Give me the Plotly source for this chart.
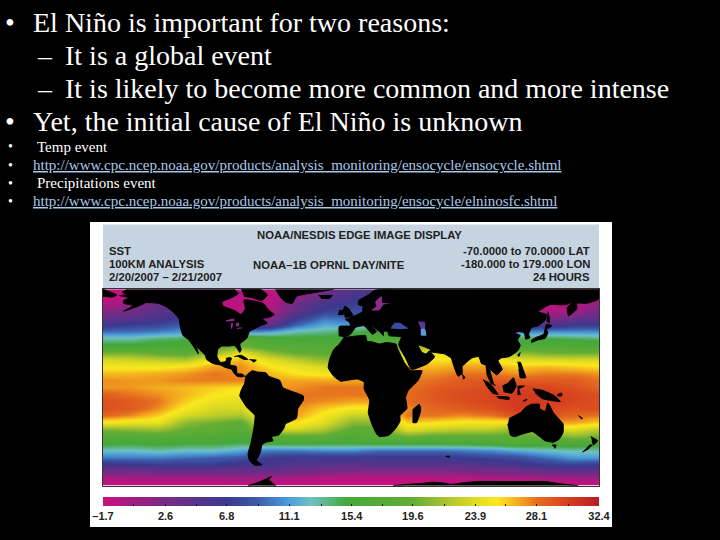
import plotly.graph_objects as go

# sea surface temperature, one row per latitude
lons = [-180, -160, -140, -120, -100, -80, -60, -40, -20, 0, 20, 40, 60, 80, 100, 120, 140, 160, 180]
lats = [70, 65, 60, 55, 50, 45, 40, 35, 30, 25, 20, 15, 10, 5, 0, -5, -10, -15, -20, -25, -30, -35, -40, -45, -50, -55, -60, -65, -70]
sst = [
    [-1.5, -1.5, -1, 0, 0, 0, -1, 0, 3, 5, 5, 5, 5, 5, 5, 3, -1, -1, -1],
    [-1.5, -1.2, 0, 0, 0, -1, -1, 1, 4, 6, 6, 6, 6, 6, 5, 3, -1, -1.5, -0.5],
    [-1, 1, 3.5, 4, -1, -1, -1, 3.5, 6, 7, 7, 7, 7, 6, 5, 2, -1, -1, 1.5],
    [1.5, 3, 4.5, 5, -1, -1, -0.5, 4, 7, 8, 8, 8, 8, 7, 5, 2, -0.5, 0, 3],
    [4, 4.5, 5.5, 7, 3, 1, 1, 6.5, 9.5, 9, 9, 9, 9, 8, 6, 3, 1.5, 3, 4.5],
    [6, 7, 7.5, 9, 6, 4, 4, 9, 11.5, 11, 13, 12, 10, 9, 8, 7, 5, 6.5, 6.5],
    [9.5, 9.5, 10, 11, 9, 10, 11, 13, 13.5, 14.5, 15.5, 14, 12, 11, 10, 10, 10.5, 10.5, 10.5],
    [13, 13, 14, 14.5, 18, 18, 16, 15.5, 15.5, 16, 16.5, 17, 16, 15, 14, 14.5, 15, 14.5, 14],
    [15.5, 15.5, 16, 16, 19, 19.5, 18, 17.5, 17.5, 17, 17, 20, 21, 23, 23, 17, 17, 16.5, 16.5],
    [20, 20, 19, 18.5, 21, 24, 21, 19.5, 19, 19, 19, 24.5, 24.5, 24.5, 24, 21, 20, 19.5, 20],
    [23.5, 23, 22.5, 22, 25, 26.5, 24, 22.5, 21, 21, 22, 24.5, 25.5, 25.5, 25.5, 24, 23.5, 23.5, 23.5],
    [25, 25, 25, 25.5, 27, 27.5, 25.5, 24.5, 23.5, 24, 25, 26.5, 26.5, 27, 27, 26, 26.5, 26, 25.5],
    [26.5, 26.5, 26.8, 27.3, 28, 27.5, 26.5, 25.5, 25, 25, 25, 27.3, 27.5, 28, 28, 27.3, 27.8, 27.8, 27.3],
    [27.5, 27.3, 27.3, 27.8, 27.8, 27.8, 27, 27, 27, 27, 27, 27.8, 28.2, 29, 29, 29, 29, 29, 28],
    [27.3, 27.3, 26.8, 26.5, 26, 25.5, 27, 27.5, 28, 28, 28, 28, 29, 29.2, 29.7, 30, 30, 29.5, 28.5],
    [28.8, 28, 27.5, 26.5, 25.5, 25, 27, 28, 28, 28, 28, 28.3, 29.2, 29.7, 30, 30.5, 30.5, 30, 29.5],
    [29.5, 29, 28, 26, 24.5, 24, 27, 28, 27.5, 27, 27, 28.3, 29, 29.5, 30, 30.5, 30.5, 30, 29.5],
    [29.5, 29, 27.5, 25, 23.5, 23.5, 27, 27.5, 26, 25, 25, 27.5, 28.5, 29, 29.5, 30.5, 30, 29.5, 29.5],
    [28.5, 27.5, 26, 23.5, 22.5, 22, 26, 27, 25, 23, 23, 28, 28, 27.5, 28, 29.5, 29.5, 28.5, 28],
    [25, 24.5, 24.5, 21, 20, 19, 26, 25.5, 24, 21, 21, 26, 25.5, 25, 25, 24.5, 27, 27, 26],
    [20.5, 21, 21.5, 19.5, 19, 18, 23, 23.5, 22, 19, 19, 24, 23, 22.5, 22.5, 21, 23.5, 24, 22.5],
    [17.5, 17.5, 18, 17.5, 17, 16, 19, 19, 19, 17, 18, 20, 19, 19, 19, 19, 19.5, 21, 20],
    [15.5, 15, 15.5, 15, 15, 14.5, 15, 15.5, 15, 15, 15.5, 15.5, 15.5, 15.5, 16, 17, 16, 16.5, 16],
    [12.5, 12.5, 13, 12.5, 12.5, 11.5, 10, 10, 10.5, 10.5, 9.5, 9.5, 9.5, 10, 10.5, 11.5, 12.5, 13, 13],
    [10, 10, 10, 9.5, 9, 8.5, 7, 6.5, 6.5, 6.5, 6.5, 6.5, 6.5, 7, 7.5, 8, 9.5, 11, 11],
    [6, 6.5, 7, 7, 7, 6, 6, 5.5, 5, 4.5, 5, 5, 5, 5, 5.5, 6, 7, 7.5, 7],
    [3.5, 3, 3.5, 3.5, 3.5, 3.5, 3.5, 3, 2.5, 2, 2, 2, 2, 2.5, 2.5, 3, 3.5, 4, 4],
    [-0.5, 0, 0, 0, 0, 0.5, 0, -0.5, -1, -1, -1, -1, -1, -1, -0.5, -0.5, 0, 0, 0.5],
    [-1.7, -1.7, -1.7, -1.7, -1.7, -1.7, -1.7, -1.7, -1.7, -1.7, -1.7, -1.7, -1.7, -1.7, -1.7, -1.7, -1.7, -1.7, -1.7],
]

sst_colors = [
    [0, "#c8107e"], [0.12, "#7b2a85"], [0.25, "#3b3a8f"], [0.31, "#3e5aa8"], [0.375, "#4a9fdc"],
    [0.42, "#72c0c4"], [0.49, "#45a83a"], [0.625, "#62ad35"], [0.686, "#a3c230"], [0.75, "#e0dc20"],
    [0.795, "#fbe81e"], [0.85, "#f0981e"], [0.875, "#e56e20"], [0.935, "#d6401e"], [1, "#b81c24"],
]
bar_vals = [-1.7, 0.4, 2.6, 4.7, 6.8, 9, 11.1, 13.3, 15.4, 17.5, 19.6, 21.8, 23.9, 26, 28.1, 30.3, 32.4]
bar_text = ["\u20131.7", "", "2.6", "", "6.8", "", "11.1", "", "15.4", "", "19.6", "", "23.9", "", "28.1", "", "32.4"]

# land outlines, (lon, lat)
north_america = [(-162, 70), (-166, 68), (-163, 66), (-168, 65.5), (-161, 64), (-165, 62), (-165, 60), (-158, 58.5),
                 (-165, 54.5), (-157, 57), (-152, 59), (-149, 60.5), (-140, 60), (-135, 58), (-130, 54.5), (-125, 49),
                 (-124, 43), (-122, 37), (-118, 34), (-115, 30), (-111, 24), (-112, 28), (-114, 31), (-110, 27),
                 (-106, 23), (-105, 20), (-100, 17), (-95, 16), (-92, 14.5), (-87, 13), (-85, 10), (-83, 8), (-80, 7.5),
                 (-77.5, 8), (-79, 9.5), (-83, 10), (-83.5, 15), (-88, 16), (-88, 18), (-87, 21), (-90.5, 21), (-91, 18.5),
                 (-95, 18), (-97.5, 22), (-97, 27), (-94, 29.5), (-89, 29.5), (-85, 30), (-83, 28), (-81, 25), (-80, 27),
                 (-81, 31), (-76, 35), (-74, 40), (-70, 42), (-66, 44), (-61, 46), (-65, 49), (-60, 50), (-56, 52), (-60, 55),
                 (-64, 60), (-70, 61.5), (-78, 62.5), (-77, 56), (-80, 52), (-85, 55), (-93, 58), (-94, 61), (-87, 64),
                 (-82, 67), (-85, 70)]
baffin = [(-80, 70), (-66, 70), (-61, 66), (-65, 62), (-72, 64), (-78, 65)]
greenland = [(-55, 70), (-52, 65), (-48, 61), (-43, 60), (-40, 65), (-25, 68), (-13, 70)]
south_america = [(-77, 8), (-72, 12), (-68, 11), (-62, 10.5), (-60, 8), (-52, 5), (-50, 0), (-44, -2.5), (-35, -6),
                 (-35, -9), (-39, -15), (-40, -22), (-48, -26), (-49, -29), (-53, -34), (-58, -35), (-57, -38), (-62, -39),
                 (-65, -41), (-66, -46), (-68, -50), (-69, -52), (-65, -55), (-70, -55.5), (-74, -52), (-75, -47), (-73, -40),
                 (-71, -30), (-70, -20), (-76, -14), (-81, -6), (-80, -2), (-78, 2)]
africa = [(-6, 35.5), (10, 37), (11, 33), (15, 32.5), (20, 31), (25, 32), (32, 31), (33, 28), (36, 22), (38, 18), (43, 12),
          (51, 12), (48, 5), (41, -2), (39, -7), (40, -15), (35, -20), (35, -24), (32, -29), (27, -34), (20, -35), (18, -33),
          (15, -27), (12, -18), (13, -9), (9, -1), (9, 4), (4, 6), (-4, 5), (-8, 4.5), (-13, 8), (-17, 14), (-16, 20),
          (-13, 27), (-10, 30)]
eurasia = [(-9, 36.5), (-9, 43.5), (-1, 44), (-1.5, 46.5), (-4.5, 48.5), (1, 50.5), (4, 52), (8, 54), (8, 57), (10, 57.5), (8, 58),
           (5, 59), (5, 62), (12, 66), (16, 69), (20, 70), (180, 70),
           (180, 65), (178, 62.5), (170, 60), (163, 60), (163, 56), (162, 55), (157, 51), (156, 57), (160, 61), (155, 59),
           (143, 59), (135, 54), (141, 52), (140, 48), (135, 44), (130, 42.5), (128, 38), (129, 35.5), (126, 34.5), (125, 39),
           (121, 40), (118, 39), (122, 37), (120, 34), (122, 30), (120, 26), (114, 22), (108, 21), (106, 19), (109, 13),
           (105, 9), (100, 13), (103, 2), (104, 1.5), (101, 3), (98, 9), (97, 16), (94, 17), (92, 22), (87, 21), (80, 15),
           (80, 10), (77, 8), (73, 18), (72, 21), (67, 24), (57, 25.5), (57, 27), (50, 30), (48, 30), (51, 25), (54, 24),
           (56, 26), (60, 22), (55, 17), (45, 13), (43, 13), (39, 21), (35, 28), (34, 31), (36, 36), (27, 37), (26, 40),
           (23, 40), (23, 37), (20, 40), (13, 45.5), (18, 40), (15, 38), (9, 44), (3, 43), (0, 39), (-2, 37), (-6, 36)]
chukotka = [(-180, 70), (-170, 66), (-173, 64.5), (-180, 65)]
britain = [(-5, 50), (1, 51), (-2, 56), (-5, 58), (-6, 55)]
ireland = [(-10, 52), (-6, 52), (-6, 55), (-9, 55)]
iceland = [(-24, 65.5), (-14, 65.5), (-16, 63.5), (-22, 63.5)]
madagascar = [(44, -16), (49, -12), (50, -16), (47, -25), (44, -25)]
japan = [(130, 32), (135, 34), (140, 35), (142, 39), (141, 41.5), (145, 44), (141, 45), (139, 38), (133, 35.5), (130, 33.5)]
sakhalin = [(142, 54), (143, 50), (143, 46), (141, 48)]
taiwan = [(120, 23), (122, 25), (121, 22)]
philippines = [(120, 18), (122, 18), (124, 13), (126, 7), (122, 7), (121, 13)]
borneo = [(109, 1), (113, 3), (117, 7), (119, 1), (116, -4), (110, -3)]
sumatra = [(95, 5.5), (100, 3), (106, -5), (102, -4), (97, 2)]
java = [(105, -6.5), (114, -7), (114, -8.5), (106, -7.5)]
sulawesi = [(120, 1), (125, 1), (121, -1), (122, -5), (120, -5)]
new_guinea = [(131, -1), (138, -2), (147, -6), (151, -10), (143, -9), (138, -8), (133, -4)]
new_britain = [(149, -5), (152, -4), (152, -6), (149, -6)]
timor = [(124, -9.5), (127, -8.5), (125, -10)]
australia = [(114, -22), (122, -18), (126, -14), (130, -12), (136, -12), (136, -15), (140, -17), (142, -11), (146, -18),
             (153, -26), (153, -32), (150, -37), (146, -39), (140, -38), (136, -35), (131, -31.5), (124, -33), (118, -35),
             (115, -34), (113, -26)]
tasmania = [(145, -41), (148, -41), (147, -43.5)]
nz_south = [(167, -46), (171, -44), (174, -41), (172, -41)]
nz_north = [(173, -35), (178, -38), (175, -41), (174, -38)]
sri_lanka = [(80, 9.5), (82, 7), (80.5, 6)]
cuba = [(-85, 22), (-80, 23), (-75, 20), (-78, 20), (-82, 22)]
hispaniola = [(-74, 20), (-69, 19.5), (-71, 18)]
caledonia = [(164, -20), (167, -22), (166, -22.5)]
kerguelen = [(68, -49), (71, -49), (70, -50)]
peninsula = [(-75, -70), (-66, -67), (-58, -63.5), (-60, -65.5), (-55, -70)]
antarctica = [(30, -70), (40, -69), (50, -68.5), (58, -67.5), (66, -68), (72, -69), (80, -68), (90, -67), (110, -67), (125, -67),
              (140, -67), (150, -68.5), (164, -70)]
land = [north_america, baffin, greenland, south_america, africa, eurasia, chukotka, britain, ireland, iceland, madagascar,
        japan, sakhalin, taiwan, philippines, borneo, sumatra, java, sulawesi, new_guinea, new_britain, timor, australia,
        tasmania, nz_south, nz_north, sri_lanka, cuba, hispaniola, caledonia, kerguelen, peninsula, antarctica]

# inland water that keeps its own colour
baltic = [(14, 55), (20, 55), (23, 59), (29, 60), (22, 60.5), (22, 65), (20, 64), (17, 61), (18, 58)]
black_sea = [(28, 42), (31, 46), (35, 46), (41, 42), (35, 41.5)]
caspian_n = [(48, 47), (53, 46.5), (53, 42), (50, 42)]
caspian_s = [(50, 42), (53, 42), (54, 37), (50, 37)]
lake_superior = [(-91, 48), (-85, 49), (-85, 47.5), (-91, 47)]
lake_michigan = [(-87.5, 46), (-86, 46), (-86.5, 42), (-87.5, 42)]
lake_huron = [(-84, 46), (-81.5, 46), (-82, 43.5), (-83.5, 43.5)]
lake_erie = [(-83, 42.5), (-79.5, 43), (-79.5, 42.3), (-83, 41.7)]
inland = [(baltic, "#8f2a8a"), (black_sea, "#3e4a9e"), (caspian_n, "#5a3a96"), (caspian_s, "#5b9ad8"), (lake_superior, "#8a2a90"),
          (lake_michigan, "#8a2a90"), (lake_huron, "#8a2a90"), (lake_erie, "#8a2a90")]

main_lines = [("\u2022", 3, 22), ("El Ni\u00f1o is important for two reasons:", 31, 22),
              ("\u2013", 35, 55), ("It is a global event", 63, 55),
              ("\u2013", 35, 89), ("It is likely to become more common and more intense", 63, 89),
              ("\u2022", 3, 122), ("Yet, the initial cause of El Ni\u00f1o is unknown", 31, 122)]
small_lines = [("Temp event", 35, 147, False),
               ("http://www.cpc.ncep.noaa.gov/products/analysis_monitoring/ensocycle/ensocycle.shtml", 31, 165, True),
               ("Precipitations event", 35, 183, False),
               ("http://www.cpc.ncep.noaa.gov/products/analysis_monitoring/ensocycle/elninosfc.shtml", 31, 201, True)]
map_labels = [("NOAA/NESDIS EDGE IMAGE DISPLAY", 359, 235, "center"), ("SST", 107, 251, "left"),
              ("100KM ANALYSIS", 107, 264, "left"), ("2/20/2007 \u2013 2/21/2007", 107, 277, "left"),
              ("NOAA\u20131B OPRNL DAY/NITE", 329, 265, "center"), ("-70.0000 to 70.0000 LAT", 592, 251, "right"),
              ("-180.000 to 179.000 LON", 592, 264, "right"), ("24 HOURS", 592, 277, "right")]

W, H = 720, 540


def px(x):
    return x / W


def py(y):
    return 1 - y / H


fig = go.Figure()
fig.add_trace(go.Heatmap(
    x=lons, y=lats, z=sst, zmin=-1.7, zmax=32.4, zsmooth="best", colorscale=sst_colors, hoverinfo="skip",
    colorbar=dict(orientation="h", x=px(351), xanchor="center", y=py(497), yanchor="top", lenmode="pixels", len=496,
                  thicknessmode="pixels", thickness=9, xpad=0, ypad=0, outlinewidth=0, tickmode="array",
                  tickvals=bar_vals, ticktext=bar_text, ticks="inside", ticklen=2, tickcolor="#111",
                  tickfont=dict(family="Liberation Sans", size=11, color="#222", weight="bold")),
))
for shape in land:
    fig.add_trace(go.Scatter(x=[p[0] for p in shape], y=[p[1] for p in shape], mode="lines", fill="toself",
                             fillcolor="black", line=dict(color="black", width=1, shape="spline", smoothing=0.4),
                             hoverinfo="skip", showlegend=False))
for shape, color in inland:
    fig.add_trace(go.Scatter(x=[p[0] for p in shape], y=[p[1] for p in shape], mode="lines", fill="toself",
                             fillcolor=color, line=dict(color=color, width=0, shape="spline", smoothing=0.4),
                             hoverinfo="skip", showlegend=False))

fig.add_shape(type="rect", xref="paper", yref="paper", x0=px(90), x1=px(612), y0=py(527), y1=py(222),
              fillcolor="white", line_width=0, layer="below")
fig.add_shape(type="rect", xref="paper", yref="paper", x0=px(103), x1=px(599), y0=py(289.5), y1=py(224.5),
              fillcolor="#c5d4e0", line_width=0, layer="below")

for text, x, y in main_lines:
    fig.add_annotation(text=text, x=px(x), y=py(y), xref="paper", yref="paper", xanchor="left", yanchor="middle",
                       showarrow=False, font=dict(family="Liberation Serif", size=28, color="white"))
for y in [147, 165, 183, 201]:
    fig.add_annotation(text="\u2022", x=px(6), y=py(y), xref="paper", yref="paper", xanchor="left", yanchor="middle",
                       showarrow=False, font=dict(family="Liberation Serif", size=14, color="white"))
for text, x, y, is_link in small_lines:
    label = "<u>" + text + "</u>" if is_link else text
    fig.add_annotation(text=label, x=px(x), y=py(y), xref="paper", yref="paper", xanchor="left", yanchor="middle",
                       showarrow=False, font=dict(family="Liberation Serif", size=15, color="#a9c9ea" if is_link else "white"))
for text, x, y, anchor in map_labels:
    fig.add_annotation(text=text, x=px(x), y=py(y), xref="paper", yref="paper", xanchor=anchor, yanchor="middle",
                       showarrow=False, font=dict(family="Liberation Sans", size=11.3, color="#222", weight="bold"))

fig.update_xaxes(domain=[px(103), px(599)], range=[-180, 179], showgrid=False, zeroline=False, showticklabels=False,
                 ticks="", showline=True, mirror=True, linecolor="#333", linewidth=1)
fig.update_yaxes(domain=[py(485.7), py(289.3)], range=[-70, 70], showgrid=False, zeroline=False, showticklabels=False,
                 ticks="", showline=True, mirror=True, linecolor="#333", linewidth=1)
fig.update_layout(width=W, height=H, margin=dict(l=0, r=0, t=0, b=0), paper_bgcolor="black", plot_bgcolor="black",
                  showlegend=False)

fig.write_html("out.html", config={"displayModeBar": False},
               post_script="document.body.style.margin='0';document.body.style.background='black';")
